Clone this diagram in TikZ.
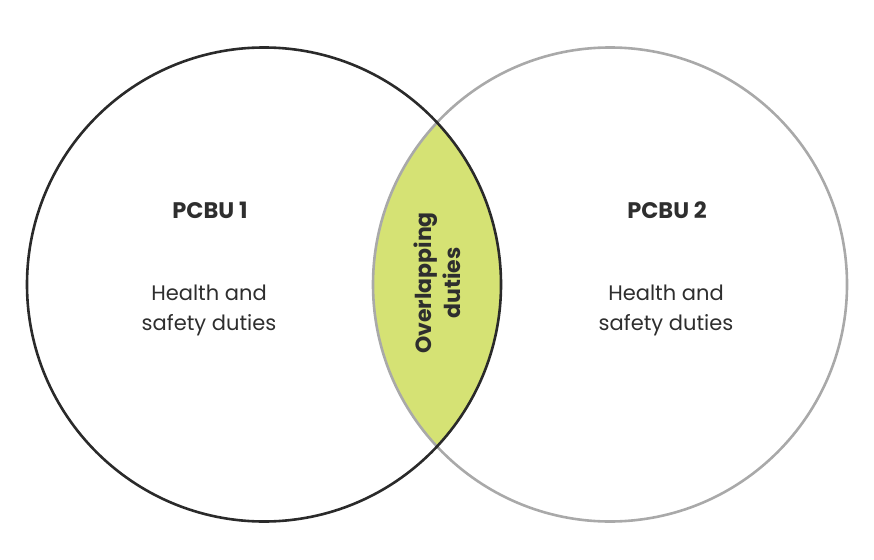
\documentclass[tikz,border=0pt]{standalone}
\usepackage{fontspec}
\setmainfont{Poppins}
\definecolor{lens}{HTML}{D5E274}
\definecolor{darkline}{HTML}{2A2A2A}
\definecolor{greyline}{HTML}{A9A9A9}
\definecolor{txt}{HTML}{2E2E2E}
\begin{document}
\begin{tikzpicture}[x=1pt,y=-1pt,
  ring/.style={line width=2.6pt},
  title/.style={font=\fontsize{22.5}{24}\selectfont\bfseries, text=txt},
  body/.style={font=\fontsize{21}{30}\selectfont, text=txt, align=center},
  lenslabel/.style={font=\fontsize{22}{29}\selectfont\bfseries, text=txt, align=center, rotate=90}]
\useasboundingbox (0,0) rectangle (874,559);
\coordinate (c1) at (264,284.5);
\coordinate (c2) at (610,284.5);
\begin{scope}
  \clip (c1) circle[radius=237];
  \fill[lens] (c2) circle[radius=237];
\end{scope}
\draw[ring, greyline] (c2) circle[radius=237];
\draw[ring, darkline] (c1) circle[radius=237];
\node[title] (p1) at (210,210) {PCBU 1};
\node[body] (h1) at (209,310) {Health and\\safety duties};
\node[title] (p2) at (667,210) {PCBU 2};
\node[body] (h2) at (666,310) {Health and\\safety duties};
\node[lenslabel] (ov) at (437,283) {Overlapping\\duties};
\end{tikzpicture}
\end{document}
